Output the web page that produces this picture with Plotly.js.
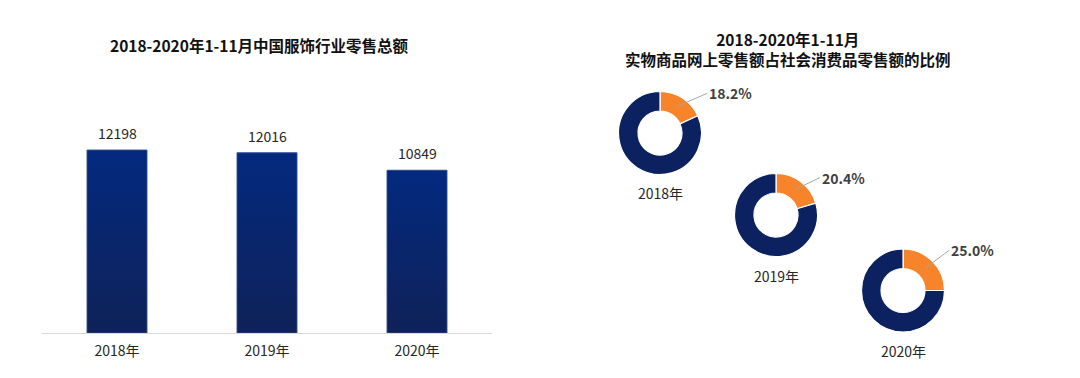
<!DOCTYPE html>
<html>
<head>
<meta charset="utf-8">
<script src="https://cdn.plot.ly/plotly-3.0.1.min.js"></script>
<style>html,body{margin:0;padding:0;background:#fff}#chart{width:1080px;height:378px}</style>
</head>
<body>
<div id="chart"></div>
<script>
// ---- data ----
const barCategories = ['2018年', '2019年', '2020年'];
const barValues = [12198, 12016, 10849];
const pieYears = ['2018年', '2019年', '2020年'];
const onlineShare = [18.2, 20.4, 25.0];
const leftTitle = '2018-2020年1-11月中国服饰行业零售总额';
const rightTitle = '2018-2020年1-11月<br>实物商品网上零售额占社会消费品零售额的比例';

// ---- layout helpers (pixels -> paper) ----
const W = 1080, H = 378;
const px = x => x / W;
const py = y => 1 - y / H;
const FONT = '"Noto Sans CJK SC", "Noto Sans", sans-serif';
const ORANGE = '#F7842A', NAVY = '#0B2160';

const traces = [];
const idx = barCategories.map((c, i) => i);
const halfW = 0.2;

// bar trace (solid base)
traces.push({
  type: 'bar', x: idx, y: barValues, width: 2 * halfW,
  marker: {color: '#082670', line: {color: '#4A64A0', width: 0.6}},
  hoverinfo: 'y', showlegend: false
});
// gradient overlay built from the same data
barValues.forEach((v, i) => {
  traces.push({
    type: 'scatter', mode: 'lines',
    x: [i - halfW, i + halfW, i + halfW, i - halfW, i - halfW],
    y: [0, 0, v, v, 0],
    fill: 'toself',
    fillgradient: {type: 'vertical', colorscale: [[0, '#0F2258'], [1, '#03297F']]},
    line: {color: '#4A64A0', width: 0.6},
    hoverinfo: 'skip', showlegend: false
  });
});

// donuts
const centers = [[660, 133], [776, 215], [903, 290.5]];
const R = 41.5;
const tailOff = [[30, -13], [25, -12], [24, -18]];
const annotations = [];

annotations.push({
  xref: 'paper', yref: 'paper', x: px(259), y: py(45), showarrow: false,
  text: '<b>' + leftTitle + '</b>', font: {family: FONT, size: 15.5, color: '#111'},
  xanchor: 'center', yanchor: 'middle'
});
annotations.push({
  xref: 'paper', yref: 'paper', x: px(788), y: py(49), showarrow: false,
  text: '<b>' + rightTitle + '</b>', font: {family: FONT, size: 15.5, color: '#111'},
  xanchor: 'center', yanchor: 'middle'
});

barValues.forEach((v, i) => {
  annotations.push({
    xref: 'x', yref: 'y', x: i, y: v, showarrow: false, yanchor: 'bottom', yshift: 5,
    text: String(v), font: {family: FONT, size: 14, color: '#262626'}
  });
});

onlineShare.forEach((s, i) => {
  const [cx, cy] = centers[i];
  traces.push({
    type: 'pie', values: [s, 100 - s], labels: ['网上零售额', '其他'],
    sort: false, direction: 'clockwise', rotation: 0, hole: 0.53,
    textinfo: 'none', hoverinfo: 'label+percent',
    marker: {colors: [ORANGE, NAVY], line: {color: '#FFFFFF', width: 1.2}},
    domain: {x: [px(cx - R), px(cx + R)], y: [py(cy + R), py(cy - R)]},
    showlegend: false
  });
  // leader tip at slice mid-angle, ring middle
  const ang = (s / 100) * Math.PI; // half of slice angle
  const rm = R * (1 + 0.53) / 2;
  const tx = cx + rm * Math.sin(ang), ty = cy - rm * Math.cos(ang);
  annotations.push({
    xref: 'paper', yref: 'paper', x: px(tx), y: py(ty),
    ax: tailOff[i][0], ay: tailOff[i][1], axref: 'pixel', ayref: 'pixel',
    showarrow: true, arrowhead: 0, arrowwidth: 1, arrowcolor: '#A6A6A6',
    xanchor: 'left', yanchor: 'middle',
    text: '<b>' + s.toFixed(1) + '%</b>', font: {family: FONT, size: 14, color: '#404040'}
  });
  annotations.push({
    xref: 'paper', yref: 'paper', x: px(cx), y: py(cy + R + 19), showarrow: false,
    xanchor: 'center', yanchor: 'middle',
    text: pieYears[i], font: {family: FONT, size: 14, color: '#262626'}
  });
});

const yMax = 233 / 0.015;
const layout = {
  width: W, height: H,
  margin: {l: 0, r: 0, t: 0, b: 0},
  paper_bgcolor: '#FFFFFF', plot_bgcolor: 'rgba(0,0,0,0)',
  showlegend: false,
  font: {family: FONT, color: '#262626'},
  xaxis: {
    domain: [px(42), px(492)], range: [-0.5, 2.5],
    tickmode: 'array', tickvals: idx, ticktext: barCategories,
    showgrid: false, zeroline: false, showline: true, linecolor: '#D9D9D9', linewidth: 1,
    ticks: '', ticklabelstandoff: 5,
    tickfont: {family: FONT, size: 14, color: '#262626'}, fixedrange: true
  },
  yaxis: {
    domain: [py(333), py(100)], range: [0, yMax],
    visible: false, showgrid: false, zeroline: false, fixedrange: true
  },
  annotations: annotations
};

Plotly.newPlot('chart', traces, layout, {displayModeBar: false, staticPlot: true});
</script>
</body>
</html>
